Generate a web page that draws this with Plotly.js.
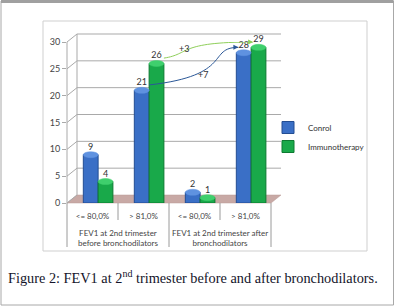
<!DOCTYPE html>
<html><head><meta charset="utf-8">
<script src="https://cdn.plot.ly/plotly-3.0.1.min.js"></script>
<style>html,body{margin:0;padding:0;background:#fff;}#chart{width:395px;height:306px;}</style>
</head><body><div id="chart"></div>
<script>
// ---- data ----
const categories = ["<= 80,0%", "> 81,0%", "<= 80,0%", "> 81,0%"];
const groupLabels = ["FEV1 at 2nd trimester<br>before bronchodilators", "FEV1 at 2nd trimester after<br>bronchodilators"];
const seriesNames = ["Conrol", "Immunotherapy"];
const control = [9, 21, 2, 28];
const immunotherapy = [4, 26, 1, 29];
const yTicks = [0, 5, 10, 15, 20, 25, 30];
const caption = "Figure 2: FEV1 at 2<sup>nd</sup> trimester before and after bronchodilators.";

// ---- layout geometry (pixels) ----
const W = 395, H = 306;
const L = 67, R = 271, T = 42, B = 203;
const PW = R - L, PH = B - T;
const DX = 10, DY = 8; // depth offset of back wall
const X = px => (px - L) / PW;
const Y = py => (B - py) / PH;
const yMax = yTicks[yTicks.length - 1];

const xIdx = categories.map((c, i) => i);
const barW = 0.29;
const offC = -0.18, offI = 0.11;
const colC = "#3a6fc6", colI = "#19a94a";
const fontSans = "Lato, sans-serif";

const traces = [
  {type: "bar", name: seriesNames[0], x: xIdx, y: control, width: barW, offset: offC,
   marker: {color: colC, line: {color: "#234d92", width: 1}},
   text: control.map(String), textposition: "outside", cliponaxis: false,
   textfont: {size: 9, color: "#333", family: fontSans}},
  {type: "bar", name: seriesNames[1], x: xIdx, y: immunotherapy, width: barW, offset: offI,
   marker: {color: colI, line: {color: "#0d7a31", width: 1}},
   text: immunotherapy.map(String), textposition: "outside", cliponaxis: false,
   textfont: {size: 9, color: "#333", family: fontSans}}
];

const shapes = [];
const annotations = [];
// outer frame
shapes.push({type: "rect", xref: "paper", yref: "paper", x0: X(1), x1: X(393.5), y0: Y(305), y1: Y(1),
  line: {color: "#a8a8a8", width: 1}, layer: "below"});
shapes.push({type: "line", xref: "paper", yref: "paper", x0: X(1), x1: X(393.5), y0: Y(1.5), y1: Y(1.5),
  line: {color: "#a0a0a0", width: 3}, layer: "below"});
// chart box
shapes.push({type: "rect", xref: "paper", yref: "paper", x0: X(43), x1: X(367), y0: Y(251), y1: Y(21),
  line: {color: "#cfcfcf", width: 1}, layer: "below"});
// floor
shapes.push({type: "path", xref: "paper", yref: "paper",
  path: `M${X(L)},${Y(B)} L${X(R)},${Y(B)} L${X(R + DX)},${Y(B - DY)} L${X(L + DX)},${Y(B - DY)} Z`,
  fillcolor: "#c8a9a5", line: {color: "#b89894", width: 0.5}, layer: "below"});
// back wall gridlines + diagonals
yTicks.forEach(v => {
  const yp = v / yMax;
  if (v > 0) {
    shapes.push({type: "line", xref: "paper", yref: "paper", x0: X(L + DX), x1: X(R + DX),
      y0: yp + DY / PH, y1: yp + DY / PH, line: {color: "#a9a9a9", width: 1}, layer: "below"});
  }
  shapes.push({type: "line", xref: "paper", yref: "paper", x0: 0, x1: X(L + DX),
    y0: yp, y1: yp + DY / PH, line: {color: "#a9a9a9", width: 1}, layer: "below"});
});
// back wall left edge
shapes.push({type: "line", xref: "paper", yref: "paper", x0: X(L + DX), x1: X(L + DX),
  y0: DY / PH, y1: 1 + DY / PH, line: {color: "#a9a9a9", width: 1}, layer: "below"});
// front axis line
shapes.push({type: "line", xref: "paper", yref: "paper", x0: 0, x1: 0, y0: 0, y1: 1,
  line: {color: "#a9a9a9", width: 1}, layer: "below"});
// category table separators
const nCat = categories.length;
for (let k = 0; k <= nCat; k++) {
  const xp = k / nCat;
  const long = (k % 2 === 0);
  shapes.push({type: "line", xref: "paper", yref: "paper", x0: xp, x1: xp,
    y0: 0, y1: long ? Y(247) : Y(220), line: {color: "#9a9a9a", width: 1}});
}
// cylinder tops
[[control, offC, "#5f92e0"], [immunotherapy, offI, "#3fcf6d"]].forEach(([vals, off, c]) => {
  vals.forEach((v, i) => {
    shapes.push({type: "circle", xref: "x", yref: "y", x0: i + off, x1: i + off + barW,
      ysizemode: "pixel", yanchor: v, y0: -3, y1: 3, fillcolor: c, line: {color: c, width: 0.5}});
  });
});
// group labels
groupLabels.forEach((g, j) => {
  annotations.push({xref: "paper", yref: "paper", x: (2 * j + 1) / nCat, y: Y(238), text: g,
    xanchor: "center", yanchor: "middle",
    showarrow: false, font: {size: 8, color: "#444", family: fontSans}, align: "center"});
});
// change curves
function curve(vals, off, color, a, b, labFx, labDy) {
  const i0 = 1, i1 = 3;
  const x0 = i0 + off + barW, y0 = vals[i0] + 1;
  const x1 = i1 + off + 0.04, y1 = vals[i1] + 1;
  const dx = x1 - x0;
  shapes.push({type: "path", xref: "x", yref: "y",
    path: `M${x0},${y0} C${x0 + a * dx},${y0 + 0.25 * (y1 - y0)} ${x0 + b * dx},${y1} ${x1},${y1}`,
    line: {color: color, width: 1}});
  annotations.push({xref: "x", yref: "y", x: x1, y: y1, ax: -6, ay: 0, text: "", showarrow: true,
    arrowhead: 2, arrowsize: 1, arrowwidth: 1, arrowcolor: color});
  const d = vals[i1] - vals[i0];
  annotations.push({xref: "x", yref: "y", x: x0 + labFx * dx, y: y0 + labDy, text: "+" + d, showarrow: false,
    xanchor: "center", yanchor: "middle",
    font: {size: 9, color: "#333", family: fontSans}});
}
curve(immunotherapy, offI, "#8fcf5a", 0.3, 0.15, 0.22, 1.8);
curve(control, offC, "#2a5797", 0.95, 0.65, 0.6, 1.9);
// caption
annotations.push({xref: "paper", yref: "paper", x: X(6), y: Y(277), xanchor: "left", yanchor: "middle",
  text: caption, showarrow: false, font: {size: 14.3, color: "#14142a", family: "Liberation Serif, serif"}});

const layout = {
  width: W, height: H,
  margin: {l: L, r: W - R, t: T, b: H - B, pad: 0},
  paper_bgcolor: "#fff", plot_bgcolor: "rgba(0,0,0,0)",
  showlegend: true,
  legend: {x: X(268), y: Y(113), xanchor: "left", yanchor: "top", font: {size: 8, color: "#333", family: fontSans},
    bgcolor: "rgba(0,0,0,0)", itemwidth: 30, tracegroupgap: 0},
  xaxis: {type: "linear", range: [-0.5, nCat - 0.5], tickvals: xIdx, ticktext: categories,
    showgrid: false, zeroline: false, showline: false, ticks: "", tickfont: {size: 8, color: "#444", family: fontSans},
    ticklabelstandoff: 7, fixedrange: true},
  yaxis: {range: [0, yMax], tickvals: yTicks, showgrid: false, zeroline: false, showline: false,
    ticks: "outside", ticklen: 4, tickcolor: "#a9a9a9", tickfont: {size: 9, color: "#444", family: fontSans},
    fixedrange: true},
  shapes: shapes, annotations: annotations
};
Plotly.newPlot("chart", traces, layout, {staticPlot: true, displayModeBar: false});
</script></body></html>
